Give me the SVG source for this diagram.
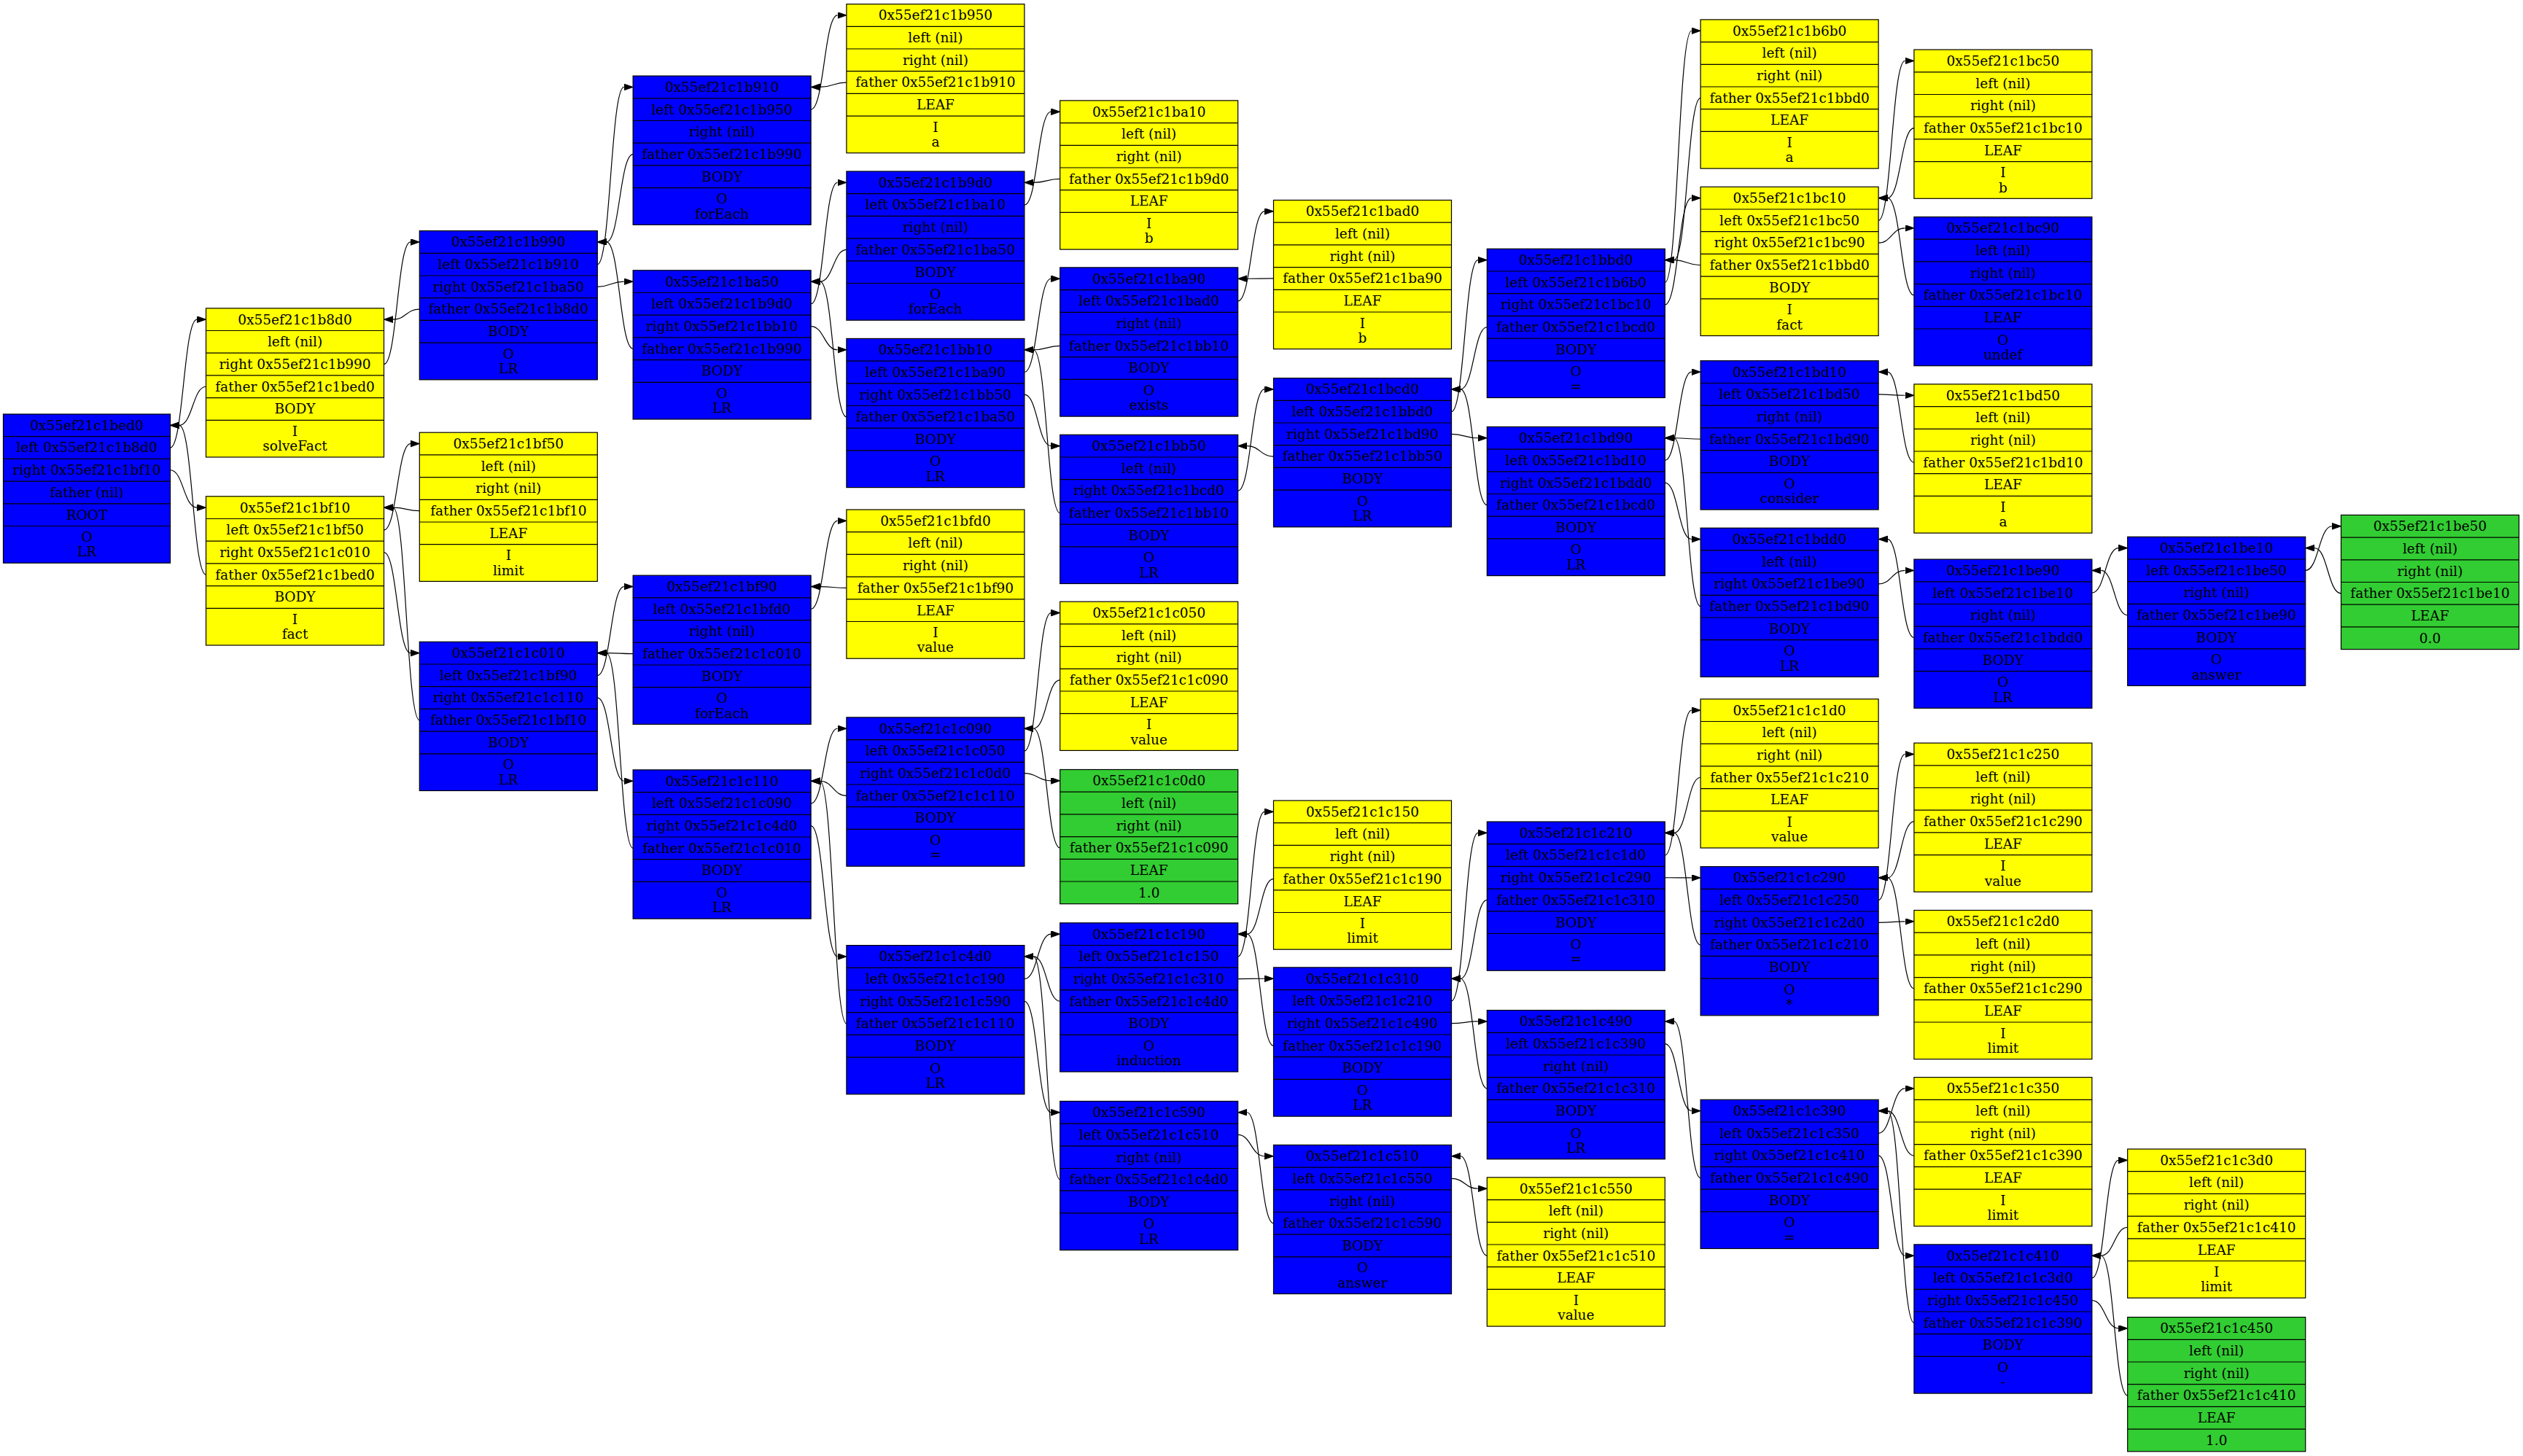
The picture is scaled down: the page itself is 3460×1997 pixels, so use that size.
<svg xmlns="http://www.w3.org/2000/svg" xmlns:xlink="http://www.w3.org/1999/xlink" width="3460" height="1997" viewBox="0 0 3460 1997">
<style>
.b{fill:#0000ff}.y{fill:#ffff00}.g{fill:#32cd32}
.b,.y,.g{stroke:#000;stroke-width:1.2}
.rl{stroke:#000;stroke-width:1.2;fill:none}
text{font-family:"DejaVu Serif",serif;font-size:18.5px;text-anchor:middle;fill:#000}
.e path{fill:none;stroke:#000;stroke-width:1.2;marker-end:url(#ah)}
</style>
<defs>
<marker id="ah" markerUnits="userSpaceOnUse" markerWidth="13" markerHeight="10" refX="0" refY="4.35" orient="auto"><path d="M0,0L12.4,4.35L0,8.7z" fill="#000" stroke="#000" stroke-width="1"/></marker>
<path id="rl" class="rl" d="M-122 30.7H122M-122 61.4H122M-122 92.1H122M-122 122.8H122M-122 153.5H122"/>
<path id="rlr" class="rl" d="M-114.5 30.7H114.5M-114.5 61.4H114.5M-114.5 92.1H114.5M-114.5 122.8H114.5M-114.5 153.5H114.5"/>
</defs>
<rect x="0" y="0" width="3460" height="1997" style="fill:#fff;stroke:none"/>
<g class="e" id="connectors">
<path d="M233.5 614.05C251.5 614.05 251.9 438.15 270.1 438.15"/>
<path d="M233.5 644.75C251.5 644.75 251.9 696.15 270.1 696.15"/>
<path d="M526.5 499.55C544.5 499.55 544.9 331.95 562.9 331.95"/>
<path d="M526.5 726.85C544.5 726.85 544.9 608.55 562.9 608.55"/>
<path d="M526.5 757.55C544.5 757.55 544.9 895.65 562.9 895.65"/>
<path d="M819.3 362.65C837.3 362.65 837.7 119.45 855.7 119.45"/>
<path d="M819.3 393.35C837.3 393.35 837.7 386.15 855.7 386.15"/>
<path d="M819.3 926.35C837.3 926.35 837.7 804.55 855.7 804.55"/>
<path d="M819.3 957.05C837.3 957.05 837.7 1071.25 855.7 1071.25"/>
<path d="M1112.1 150.15C1130.1 150.15 1130.5 20.95 1148.5 20.95"/>
<path d="M1112.1 416.85C1130.1 416.85 1130.5 250.35 1148.5 250.35"/>
<path d="M1112.1 447.55C1130.1 447.55 1130.5 479.75 1148.5 479.75"/>
<path d="M1112.1 835.25C1130.1 835.25 1130.5 714.35 1148.5 714.35"/>
<path d="M1112.1 1101.95C1130.1 1101.95 1130.5 999.25 1148.5 999.25"/>
<path d="M1112.1 1132.65C1130.1 1132.65 1130.5 1311.95 1148.5 1311.95"/>
<path d="M1404.9 281.05C1422.9 281.05 1423.3 153.25 1441.3 153.25"/>
<path d="M1404.9 510.45C1422.9 510.45 1423.3 382.25 1441.3 382.25"/>
<path d="M1404.9 541.15C1422.9 541.15 1423.3 611.65 1441.3 611.65"/>
<path d="M1404.9 1029.95C1422.9 1029.95 1423.3 840.55 1441.3 840.55"/>
<path d="M1404.9 1060.65C1422.9 1060.65 1423.3 1070.85 1441.3 1070.85"/>
<path d="M1404.9 1342.65C1422.9 1342.65 1423.3 1281.15 1441.3 1281.15"/>
<path d="M1404.9 1373.35C1422.9 1373.35 1423.3 1525.75 1441.3 1525.75"/>
<path d="M1697.7 412.95C1715.7 412.95 1716.1 289.85 1734.1 289.85"/>
<path d="M1697.7 673.05C1715.7 673.05 1716.1 533.95 1734.1 533.95"/>
<path d="M1697.7 1311.85C1715.7 1311.85 1716.1 1113.35 1734.1 1113.35"/>
<path d="M1697.7 1342.55C1715.7 1342.55 1716.1 1342.25 1734.1 1342.25"/>
<path d="M1697.7 1556.45C1715.7 1556.45 1716.1 1585.75 1734.1 1585.75"/>
<path d="M1990.5 564.65C2008.5 564.65 2008.9 356.65 2026.9 356.65"/>
<path d="M1990.5 595.35C2008.5 595.35 2008.9 600.75 2026.9 600.75"/>
<path d="M1990.5 1372.95C2008.5 1372.95 2008.9 1142.35 2026.9 1142.35"/>
<path d="M1990.5 1403.65C2008.5 1403.65 2008.9 1400.95 2026.9 1400.95"/>
<path d="M1990.5 1616.45C2008.5 1616.45 2008.9 1630.25 2026.9 1630.25"/>
<path d="M2283.3 387.35C2301.3 387.35 2301.7 42.25 2319.7 42.25"/>
<path d="M2283.3 418.05C2301.3 418.05 2301.7 271.65 2319.7 271.65"/>
<path d="M2283.3 631.45C2301.3 631.45 2301.7 510.15 2319.7 510.15"/>
<path d="M2283.3 662.15C2301.3 662.15 2301.7 739.55 2319.7 739.55"/>
<path d="M2283.3 1173.05C2301.3 1173.05 2301.7 974.15 2319.7 974.15"/>
<path d="M2283.3 1203.75C2301.3 1203.75 2301.7 1203.95 2319.7 1203.95"/>
<path d="M2283.3 1431.65C2301.3 1431.65 2301.7 1523.65 2319.7 1523.65"/>
<path d="M2576.1 302.35C2594.1 302.35 2594.5 83.45 2612.5 83.45"/>
<path d="M2576.1 333.05C2594.1 333.05 2594.5 312.85 2612.5 312.85"/>
<path d="M2576.1 540.85C2594.1 540.85 2594.5 542.25 2612.5 542.25"/>
<path d="M2576.1 800.95C2594.1 800.95 2594.5 782.45 2612.5 782.45"/>
<path d="M2576.1 1234.65C2594.1 1234.65 2594.5 1034.45 2612.5 1034.45"/>
<path d="M2576.1 1265.35C2594.1 1265.35 2594.5 1263.85 2612.5 1263.85"/>
<path d="M2576.1 1554.35C2594.1 1554.35 2594.5 1492.95 2612.5 1492.95"/>
<path d="M2576.1 1585.05C2594.1 1585.05 2594.5 1722.25 2612.5 1722.25"/>
<path d="M2868.9 813.15C2886.9 813.15 2887.3 751.65 2905.3 751.65"/>
<path d="M2868.9 1752.95C2886.9 1752.95 2887.3 1591.35 2905.3 1591.35"/>
<path d="M2868.9 1783.65C2886.9 1783.65 2887.3 1821.95 2905.3 1821.95"/>
<path d="M3161.7 782.35C3179.7 782.35 3180.1 721.75 3198.1 721.75"/>
<path d="M282.5 530.25C264.5 530.25 263.9 583.35 245.9 583.35"/>
<path d="M282.5 788.25C264.5 788.25 263.9 583.35 245.9 583.35"/>
<path d="M575.3 424.05C557.3 424.05 556.9 438.15 538.9 438.15"/>
<path d="M575.3 700.65C557.3 700.65 556.9 696.15 538.9 696.15"/>
<path d="M575.3 987.75C557.3 987.75 556.9 696.15 538.9 696.15"/>
<path d="M868.1 211.55C850.1 211.55 849.7 331.95 831.7 331.95"/>
<path d="M868.1 478.25C850.1 478.25 849.7 331.95 831.7 331.95"/>
<path d="M868.1 896.65C850.1 896.65 849.7 895.65 831.7 895.65"/>
<path d="M868.1 1163.35C850.1 1163.35 849.7 895.65 831.7 895.65"/>
<path d="M1160.9 113.05C1142.9 113.05 1142.5 119.45 1124.5 119.45"/>
<path d="M1160.9 342.45C1142.9 342.45 1142.5 386.15 1124.5 386.15"/>
<path d="M1160.9 571.85C1142.9 571.85 1142.5 386.15 1124.5 386.15"/>
<path d="M1160.9 806.45C1142.9 806.45 1142.5 804.55 1124.5 804.55"/>
<path d="M1160.9 1091.35C1142.9 1091.35 1142.5 1071.25 1124.5 1071.25"/>
<path d="M1160.9 1404.05C1142.9 1404.05 1142.5 1071.25 1124.5 1071.25"/>
<path d="M1453.7 245.35C1435.7 245.35 1435.3 250.35 1417.3 250.35"/>
<path d="M1453.7 474.35C1435.7 474.35 1435.3 479.75 1417.3 479.75"/>
<path d="M1453.7 703.75C1435.7 703.75 1435.3 479.75 1417.3 479.75"/>
<path d="M1453.7 932.65C1435.7 932.65 1435.3 999.25 1417.3 999.25"/>
<path d="M1453.7 1162.95C1435.7 1162.95 1435.3 999.25 1417.3 999.25"/>
<path d="M1453.7 1373.25C1435.7 1373.25 1435.3 1311.95 1417.3 1311.95"/>
<path d="M1453.7 1617.85C1435.7 1617.85 1435.3 1311.95 1417.3 1311.95"/>
<path d="M1746.5 381.95C1728.5 381.95 1728.1 382.25 1710.1 382.25"/>
<path d="M1746.5 626.05C1728.5 626.05 1728.1 611.65 1710.1 611.65"/>
<path d="M1746.5 1205.45C1728.5 1205.45 1728.1 1281.15 1710.1 1281.15"/>
<path d="M1746.5 1434.35C1728.5 1434.35 1728.1 1281.15 1710.1 1281.15"/>
<path d="M1746.5 1677.85C1728.5 1677.85 1728.1 1525.75 1710.1 1525.75"/>
<path d="M2039.3 448.75C2021.3 448.75 2020.9 533.95 2002.9 533.95"/>
<path d="M2039.3 692.85C2021.3 692.85 2020.9 533.95 2002.9 533.95"/>
<path d="M2039.3 1234.45C2021.3 1234.45 2020.9 1342.25 2002.9 1342.25"/>
<path d="M2039.3 1493.05C2021.3 1493.05 2020.9 1342.25 2002.9 1342.25"/>
<path d="M2039.3 1722.35C2021.3 1722.35 2020.9 1585.75 2002.9 1585.75"/>
<path d="M2332.1 134.35C2314.1 134.35 2313.7 356.65 2295.7 356.65"/>
<path d="M2332.1 363.75C2314.1 363.75 2313.7 356.65 2295.7 356.65"/>
<path d="M2332.1 602.25C2314.1 602.25 2313.7 600.75 2295.7 600.75"/>
<path d="M2332.1 831.65C2314.1 831.65 2313.7 600.75 2295.7 600.75"/>
<path d="M2332.1 1066.25C2314.1 1066.25 2313.7 1142.35 2295.7 1142.35"/>
<path d="M2332.1 1296.05C2314.1 1296.05 2313.7 1142.35 2295.7 1142.35"/>
<path d="M2332.1 1615.75C2314.1 1615.75 2313.7 1400.95 2295.7 1400.95"/>
<path d="M2624.9 175.55C2606.9 175.55 2606.5 271.65 2588.5 271.65"/>
<path d="M2624.9 404.95C2606.9 404.95 2606.5 271.65 2588.5 271.65"/>
<path d="M2624.9 634.35C2606.9 634.35 2606.5 510.15 2588.5 510.15"/>
<path d="M2624.9 874.55C2606.9 874.55 2606.5 739.55 2588.5 739.55"/>
<path d="M2624.9 1126.55C2606.9 1126.55 2606.5 1203.95 2588.5 1203.95"/>
<path d="M2624.9 1355.95C2606.9 1355.95 2606.5 1203.95 2588.5 1203.95"/>
<path d="M2624.9 1585.05C2606.9 1585.05 2606.5 1523.65 2588.5 1523.65"/>
<path d="M2624.9 1814.35C2606.9 1814.35 2606.5 1523.65 2588.5 1523.65"/>
<path d="M2917.7 843.75C2899.7 843.75 2899.3 782.45 2881.3 782.45"/>
<path d="M2917.7 1683.45C2899.7 1683.45 2899.3 1722.25 2881.3 1722.25"/>
<path d="M2917.7 1914.05C2899.7 1914.05 2899.3 1722.25 2881.3 1722.25"/>
<path d="M3210.5 813.85C3192.5 813.85 3192.1 751.65 3174.1 751.65"/>
</g>
<g id="n-bed0" transform="translate(119,568)"><rect class="b" x="-114.5" width="229" height="204.2"/><use xlink:href="#rlr"/><text y="21.75">0x55ef21c1bed0</text><text y="52.45">left 0x55ef21c1b8d0</text><text y="83.15">right 0x55ef21c1bf10</text><text y="113.85">father (nil)</text><text y="144.55">ROOT</text><text y="175.05">O</text><text y="195.45">LR</text></g>
<g id="n-b8d0" transform="translate(404.5,422.8)"><rect class="y" x="-122" width="244" height="204.2"/><use xlink:href="#rl"/><text y="21.75">0x55ef21c1b8d0</text><text y="52.45">left (nil)</text><text y="83.15">right 0x55ef21c1b990</text><text y="113.85">father 0x55ef21c1bed0</text><text y="144.55">BODY</text><text y="175.05">I</text><text y="195.45">solveFact</text></g>
<g id="n-bf10" transform="translate(404.5,680.8)"><rect class="y" x="-122" width="244" height="204.2"/><use xlink:href="#rl"/><text y="21.75">0x55ef21c1bf10</text><text y="52.45">left 0x55ef21c1bf50</text><text y="83.15">right 0x55ef21c1c010</text><text y="113.85">father 0x55ef21c1bed0</text><text y="144.55">BODY</text><text y="175.05">I</text><text y="195.45">fact</text></g>
<g id="n-b990" transform="translate(697.3,316.6)"><rect class="b" x="-122" width="244" height="204.2"/><use xlink:href="#rl"/><text y="21.75">0x55ef21c1b990</text><text y="52.45">left 0x55ef21c1b910</text><text y="83.15">right 0x55ef21c1ba50</text><text y="113.85">father 0x55ef21c1b8d0</text><text y="144.55">BODY</text><text y="175.05">O</text><text y="195.45">LR</text></g>
<g id="n-bf50" transform="translate(697.3,593.2)"><rect class="y" x="-122" width="244" height="204.2"/><use xlink:href="#rl"/><text y="21.75">0x55ef21c1bf50</text><text y="52.45">left (nil)</text><text y="83.15">right (nil)</text><text y="113.85">father 0x55ef21c1bf10</text><text y="144.55">LEAF</text><text y="175.05">I</text><text y="195.45">limit</text></g>
<g id="n-c010" transform="translate(697.3,880.3)"><rect class="b" x="-122" width="244" height="204.2"/><use xlink:href="#rl"/><text y="21.75">0x55ef21c1c010</text><text y="52.45">left 0x55ef21c1bf90</text><text y="83.15">right 0x55ef21c1c110</text><text y="113.85">father 0x55ef21c1bf10</text><text y="144.55">BODY</text><text y="175.05">O</text><text y="195.45">LR</text></g>
<g id="n-b910" transform="translate(990.1,104.1)"><rect class="b" x="-122" width="244" height="204.2"/><use xlink:href="#rl"/><text y="21.75">0x55ef21c1b910</text><text y="52.45">left 0x55ef21c1b950</text><text y="83.15">right (nil)</text><text y="113.85">father 0x55ef21c1b990</text><text y="144.55">BODY</text><text y="175.05">O</text><text y="195.45">forEach</text></g>
<g id="n-ba50" transform="translate(990.1,370.8)"><rect class="b" x="-122" width="244" height="204.2"/><use xlink:href="#rl"/><text y="21.75">0x55ef21c1ba50</text><text y="52.45">left 0x55ef21c1b9d0</text><text y="83.15">right 0x55ef21c1bb10</text><text y="113.85">father 0x55ef21c1b990</text><text y="144.55">BODY</text><text y="175.05">O</text><text y="195.45">LR</text></g>
<g id="n-bf90" transform="translate(990.1,789.2)"><rect class="b" x="-122" width="244" height="204.2"/><use xlink:href="#rl"/><text y="21.75">0x55ef21c1bf90</text><text y="52.45">left 0x55ef21c1bfd0</text><text y="83.15">right (nil)</text><text y="113.85">father 0x55ef21c1c010</text><text y="144.55">BODY</text><text y="175.05">O</text><text y="195.45">forEach</text></g>
<g id="n-c110" transform="translate(990.1,1055.9)"><rect class="b" x="-122" width="244" height="204.2"/><use xlink:href="#rl"/><text y="21.75">0x55ef21c1c110</text><text y="52.45">left 0x55ef21c1c090</text><text y="83.15">right 0x55ef21c1c4d0</text><text y="113.85">father 0x55ef21c1c010</text><text y="144.55">BODY</text><text y="175.05">O</text><text y="195.45">LR</text></g>
<g id="n-b950" transform="translate(1282.9,5.6)"><rect class="y" x="-122" width="244" height="204.2"/><use xlink:href="#rl"/><text y="21.75">0x55ef21c1b950</text><text y="52.45">left (nil)</text><text y="83.15">right (nil)</text><text y="113.85">father 0x55ef21c1b910</text><text y="144.55">LEAF</text><text y="175.05">I</text><text y="195.45">a</text></g>
<g id="n-b9d0" transform="translate(1282.9,235)"><rect class="b" x="-122" width="244" height="204.2"/><use xlink:href="#rl"/><text y="21.75">0x55ef21c1b9d0</text><text y="52.45">left 0x55ef21c1ba10</text><text y="83.15">right (nil)</text><text y="113.85">father 0x55ef21c1ba50</text><text y="144.55">BODY</text><text y="175.05">O</text><text y="195.45">forEach</text></g>
<g id="n-bb10" transform="translate(1282.9,464.4)"><rect class="b" x="-122" width="244" height="204.2"/><use xlink:href="#rl"/><text y="21.75">0x55ef21c1bb10</text><text y="52.45">left 0x55ef21c1ba90</text><text y="83.15">right 0x55ef21c1bb50</text><text y="113.85">father 0x55ef21c1ba50</text><text y="144.55">BODY</text><text y="175.05">O</text><text y="195.45">LR</text></g>
<g id="n-bfd0" transform="translate(1282.9,699)"><rect class="y" x="-122" width="244" height="204.2"/><use xlink:href="#rl"/><text y="21.75">0x55ef21c1bfd0</text><text y="52.45">left (nil)</text><text y="83.15">right (nil)</text><text y="113.85">father 0x55ef21c1bf90</text><text y="144.55">LEAF</text><text y="175.05">I</text><text y="195.45">value</text></g>
<g id="n-c090" transform="translate(1282.9,983.9)"><rect class="b" x="-122" width="244" height="204.2"/><use xlink:href="#rl"/><text y="21.75">0x55ef21c1c090</text><text y="52.45">left 0x55ef21c1c050</text><text y="83.15">right 0x55ef21c1c0d0</text><text y="113.85">father 0x55ef21c1c110</text><text y="144.55">BODY</text><text y="175.05">O</text><text y="195.45">=</text></g>
<g id="n-c4d0" transform="translate(1282.9,1296.6)"><rect class="b" x="-122" width="244" height="204.2"/><use xlink:href="#rl"/><text y="21.75">0x55ef21c1c4d0</text><text y="52.45">left 0x55ef21c1c190</text><text y="83.15">right 0x55ef21c1c590</text><text y="113.85">father 0x55ef21c1c110</text><text y="144.55">BODY</text><text y="175.05">O</text><text y="195.45">LR</text></g>
<g id="n-ba10" transform="translate(1575.7,137.9)"><rect class="y" x="-122" width="244" height="204.2"/><use xlink:href="#rl"/><text y="21.75">0x55ef21c1ba10</text><text y="52.45">left (nil)</text><text y="83.15">right (nil)</text><text y="113.85">father 0x55ef21c1b9d0</text><text y="144.55">LEAF</text><text y="175.05">I</text><text y="195.45">b</text></g>
<g id="n-ba90" transform="translate(1575.7,366.9)"><rect class="b" x="-122" width="244" height="204.2"/><use xlink:href="#rl"/><text y="21.75">0x55ef21c1ba90</text><text y="52.45">left 0x55ef21c1bad0</text><text y="83.15">right (nil)</text><text y="113.85">father 0x55ef21c1bb10</text><text y="144.55">BODY</text><text y="175.05">O</text><text y="195.45">exists</text></g>
<g id="n-bb50" transform="translate(1575.7,596.3)"><rect class="b" x="-122" width="244" height="204.2"/><use xlink:href="#rl"/><text y="21.75">0x55ef21c1bb50</text><text y="52.45">left (nil)</text><text y="83.15">right 0x55ef21c1bcd0</text><text y="113.85">father 0x55ef21c1bb10</text><text y="144.55">BODY</text><text y="175.05">O</text><text y="195.45">LR</text></g>
<g id="n-c050" transform="translate(1575.7,825.2)"><rect class="y" x="-122" width="244" height="204.2"/><use xlink:href="#rl"/><text y="21.75">0x55ef21c1c050</text><text y="52.45">left (nil)</text><text y="83.15">right (nil)</text><text y="113.85">father 0x55ef21c1c090</text><text y="144.55">LEAF</text><text y="175.05">I</text><text y="195.45">value</text></g>
<g id="n-c0d0" transform="translate(1575.7,1055.5)"><rect class="g" x="-122" width="244" height="184.2"/><use xlink:href="#rl"/><text y="21.75">0x55ef21c1c0d0</text><text y="52.45">left (nil)</text><text y="83.15">right (nil)</text><text y="113.85">father 0x55ef21c1c090</text><text y="144.55">LEAF</text><text y="175.25">1.0</text></g>
<g id="n-c190" transform="translate(1575.7,1265.8)"><rect class="b" x="-122" width="244" height="204.2"/><use xlink:href="#rl"/><text y="21.75">0x55ef21c1c190</text><text y="52.45">left 0x55ef21c1c150</text><text y="83.15">right 0x55ef21c1c310</text><text y="113.85">father 0x55ef21c1c4d0</text><text y="144.55">BODY</text><text y="175.05">O</text><text y="195.45">induction</text></g>
<g id="n-c590" transform="translate(1575.7,1510.4)"><rect class="b" x="-122" width="244" height="204.2"/><use xlink:href="#rl"/><text y="21.75">0x55ef21c1c590</text><text y="52.45">left 0x55ef21c1c510</text><text y="83.15">right (nil)</text><text y="113.85">father 0x55ef21c1c4d0</text><text y="144.55">BODY</text><text y="175.05">O</text><text y="195.45">LR</text></g>
<g id="n-bad0" transform="translate(1868.5,274.5)"><rect class="y" x="-122" width="244" height="204.2"/><use xlink:href="#rl"/><text y="21.75">0x55ef21c1bad0</text><text y="52.45">left (nil)</text><text y="83.15">right (nil)</text><text y="113.85">father 0x55ef21c1ba90</text><text y="144.55">LEAF</text><text y="175.05">I</text><text y="195.45">b</text></g>
<g id="n-bcd0" transform="translate(1868.5,518.6)"><rect class="b" x="-122" width="244" height="204.2"/><use xlink:href="#rl"/><text y="21.75">0x55ef21c1bcd0</text><text y="52.45">left 0x55ef21c1bbd0</text><text y="83.15">right 0x55ef21c1bd90</text><text y="113.85">father 0x55ef21c1bb50</text><text y="144.55">BODY</text><text y="175.05">O</text><text y="195.45">LR</text></g>
<g id="n-c150" transform="translate(1868.5,1098)"><rect class="y" x="-122" width="244" height="204.2"/><use xlink:href="#rl"/><text y="21.75">0x55ef21c1c150</text><text y="52.45">left (nil)</text><text y="83.15">right (nil)</text><text y="113.85">father 0x55ef21c1c190</text><text y="144.55">LEAF</text><text y="175.05">I</text><text y="195.45">limit</text></g>
<g id="n-c310" transform="translate(1868.5,1326.9)"><rect class="b" x="-122" width="244" height="204.2"/><use xlink:href="#rl"/><text y="21.75">0x55ef21c1c310</text><text y="52.45">left 0x55ef21c1c210</text><text y="83.15">right 0x55ef21c1c490</text><text y="113.85">father 0x55ef21c1c190</text><text y="144.55">BODY</text><text y="175.05">O</text><text y="195.45">LR</text></g>
<g id="n-c510" transform="translate(1868.5,1570.4)"><rect class="b" x="-122" width="244" height="204.2"/><use xlink:href="#rl"/><text y="21.75">0x55ef21c1c510</text><text y="52.45">left 0x55ef21c1c550</text><text y="83.15">right (nil)</text><text y="113.85">father 0x55ef21c1c590</text><text y="144.55">BODY</text><text y="175.05">O</text><text y="195.45">answer</text></g>
<g id="n-bbd0" transform="translate(2161.3,341.3)"><rect class="b" x="-122" width="244" height="204.2"/><use xlink:href="#rl"/><text y="21.75">0x55ef21c1bbd0</text><text y="52.45">left 0x55ef21c1b6b0</text><text y="83.15">right 0x55ef21c1bc10</text><text y="113.85">father 0x55ef21c1bcd0</text><text y="144.55">BODY</text><text y="175.05">O</text><text y="195.45">=</text></g>
<g id="n-bd90" transform="translate(2161.3,585.4)"><rect class="b" x="-122" width="244" height="204.2"/><use xlink:href="#rl"/><text y="21.75">0x55ef21c1bd90</text><text y="52.45">left 0x55ef21c1bd10</text><text y="83.15">right 0x55ef21c1bdd0</text><text y="113.85">father 0x55ef21c1bcd0</text><text y="144.55">BODY</text><text y="175.05">O</text><text y="195.45">LR</text></g>
<g id="n-c210" transform="translate(2161.3,1127)"><rect class="b" x="-122" width="244" height="204.2"/><use xlink:href="#rl"/><text y="21.75">0x55ef21c1c210</text><text y="52.45">left 0x55ef21c1c1d0</text><text y="83.15">right 0x55ef21c1c290</text><text y="113.85">father 0x55ef21c1c310</text><text y="144.55">BODY</text><text y="175.05">O</text><text y="195.45">=</text></g>
<g id="n-c490" transform="translate(2161.3,1385.6)"><rect class="b" x="-122" width="244" height="204.2"/><use xlink:href="#rl"/><text y="21.75">0x55ef21c1c490</text><text y="52.45">left 0x55ef21c1c390</text><text y="83.15">right (nil)</text><text y="113.85">father 0x55ef21c1c310</text><text y="144.55">BODY</text><text y="175.05">O</text><text y="195.45">LR</text></g>
<g id="n-c550" transform="translate(2161.3,1614.9)"><rect class="y" x="-122" width="244" height="204.2"/><use xlink:href="#rl"/><text y="21.75">0x55ef21c1c550</text><text y="52.45">left (nil)</text><text y="83.15">right (nil)</text><text y="113.85">father 0x55ef21c1c510</text><text y="144.55">LEAF</text><text y="175.05">I</text><text y="195.45">value</text></g>
<g id="n-b6b0" transform="translate(2454.1,26.9)"><rect class="y" x="-122" width="244" height="204.2"/><use xlink:href="#rl"/><text y="21.75">0x55ef21c1b6b0</text><text y="52.45">left (nil)</text><text y="83.15">right (nil)</text><text y="113.85">father 0x55ef21c1bbd0</text><text y="144.55">LEAF</text><text y="175.05">I</text><text y="195.45">a</text></g>
<g id="n-bc10" transform="translate(2454.1,256.3)"><rect class="y" x="-122" width="244" height="204.2"/><use xlink:href="#rl"/><text y="21.75">0x55ef21c1bc10</text><text y="52.45">left 0x55ef21c1bc50</text><text y="83.15">right 0x55ef21c1bc90</text><text y="113.85">father 0x55ef21c1bbd0</text><text y="144.55">BODY</text><text y="175.05">I</text><text y="195.45">fact</text></g>
<g id="n-bd10" transform="translate(2454.1,494.8)"><rect class="b" x="-122" width="244" height="204.2"/><use xlink:href="#rl"/><text y="21.75">0x55ef21c1bd10</text><text y="52.45">left 0x55ef21c1bd50</text><text y="83.15">right (nil)</text><text y="113.85">father 0x55ef21c1bd90</text><text y="144.55">BODY</text><text y="175.05">O</text><text y="195.45">consider</text></g>
<g id="n-bdd0" transform="translate(2454.1,724.2)"><rect class="b" x="-122" width="244" height="204.2"/><use xlink:href="#rl"/><text y="21.75">0x55ef21c1bdd0</text><text y="52.45">left (nil)</text><text y="83.15">right 0x55ef21c1be90</text><text y="113.85">father 0x55ef21c1bd90</text><text y="144.55">BODY</text><text y="175.05">O</text><text y="195.45">LR</text></g>
<g id="n-c1d0" transform="translate(2454.1,958.8)"><rect class="y" x="-122" width="244" height="204.2"/><use xlink:href="#rl"/><text y="21.75">0x55ef21c1c1d0</text><text y="52.45">left (nil)</text><text y="83.15">right (nil)</text><text y="113.85">father 0x55ef21c1c210</text><text y="144.55">LEAF</text><text y="175.05">I</text><text y="195.45">value</text></g>
<g id="n-c290" transform="translate(2454.1,1188.6)"><rect class="b" x="-122" width="244" height="204.2"/><use xlink:href="#rl"/><text y="21.75">0x55ef21c1c290</text><text y="52.45">left 0x55ef21c1c250</text><text y="83.15">right 0x55ef21c1c2d0</text><text y="113.85">father 0x55ef21c1c210</text><text y="144.55">BODY</text><text y="175.05">O</text><text y="195.45">*</text></g>
<g id="n-c390" transform="translate(2454.1,1508.3)"><rect class="b" x="-122" width="244" height="204.2"/><use xlink:href="#rl"/><text y="21.75">0x55ef21c1c390</text><text y="52.45">left 0x55ef21c1c350</text><text y="83.15">right 0x55ef21c1c410</text><text y="113.85">father 0x55ef21c1c490</text><text y="144.55">BODY</text><text y="175.05">O</text><text y="195.45">=</text></g>
<g id="n-bc50" transform="translate(2746.9,68.1)"><rect class="y" x="-122" width="244" height="204.2"/><use xlink:href="#rl"/><text y="21.75">0x55ef21c1bc50</text><text y="52.45">left (nil)</text><text y="83.15">right (nil)</text><text y="113.85">father 0x55ef21c1bc10</text><text y="144.55">LEAF</text><text y="175.05">I</text><text y="195.45">b</text></g>
<g id="n-bc90" transform="translate(2746.9,297.5)"><rect class="b" x="-122" width="244" height="204.2"/><use xlink:href="#rl"/><text y="21.75">0x55ef21c1bc90</text><text y="52.45">left (nil)</text><text y="83.15">right (nil)</text><text y="113.85">father 0x55ef21c1bc10</text><text y="144.55">LEAF</text><text y="175.05">O</text><text y="195.45">undef</text></g>
<g id="n-bd50" transform="translate(2746.9,526.9)"><rect class="y" x="-122" width="244" height="204.2"/><use xlink:href="#rl"/><text y="21.75">0x55ef21c1bd50</text><text y="52.45">left (nil)</text><text y="83.15">right (nil)</text><text y="113.85">father 0x55ef21c1bd10</text><text y="144.55">LEAF</text><text y="175.05">I</text><text y="195.45">a</text></g>
<g id="n-be90" transform="translate(2746.9,767.1)"><rect class="b" x="-122" width="244" height="204.2"/><use xlink:href="#rl"/><text y="21.75">0x55ef21c1be90</text><text y="52.45">left 0x55ef21c1be10</text><text y="83.15">right (nil)</text><text y="113.85">father 0x55ef21c1bdd0</text><text y="144.55">BODY</text><text y="175.05">O</text><text y="195.45">LR</text></g>
<g id="n-c250" transform="translate(2746.9,1019.1)"><rect class="y" x="-122" width="244" height="204.2"/><use xlink:href="#rl"/><text y="21.75">0x55ef21c1c250</text><text y="52.45">left (nil)</text><text y="83.15">right (nil)</text><text y="113.85">father 0x55ef21c1c290</text><text y="144.55">LEAF</text><text y="175.05">I</text><text y="195.45">value</text></g>
<g id="n-c2d0" transform="translate(2746.9,1248.5)"><rect class="y" x="-122" width="244" height="204.2"/><use xlink:href="#rl"/><text y="21.75">0x55ef21c1c2d0</text><text y="52.45">left (nil)</text><text y="83.15">right (nil)</text><text y="113.85">father 0x55ef21c1c290</text><text y="144.55">LEAF</text><text y="175.05">I</text><text y="195.45">limit</text></g>
<g id="n-c350" transform="translate(2746.9,1477.6)"><rect class="y" x="-122" width="244" height="204.2"/><use xlink:href="#rl"/><text y="21.75">0x55ef21c1c350</text><text y="52.45">left (nil)</text><text y="83.15">right (nil)</text><text y="113.85">father 0x55ef21c1c390</text><text y="144.55">LEAF</text><text y="175.05">I</text><text y="195.45">limit</text></g>
<g id="n-c410" transform="translate(2746.9,1706.9)"><rect class="b" x="-122" width="244" height="204.2"/><use xlink:href="#rl"/><text y="21.75">0x55ef21c1c410</text><text y="52.45">left 0x55ef21c1c3d0</text><text y="83.15">right 0x55ef21c1c450</text><text y="113.85">father 0x55ef21c1c390</text><text y="144.55">BODY</text><text y="175.05">O</text><text y="195.45">-</text></g>
<g id="n-be10" transform="translate(3039.7,736.3)"><rect class="b" x="-122" width="244" height="204.2"/><use xlink:href="#rl"/><text y="21.75">0x55ef21c1be10</text><text y="52.45">left 0x55ef21c1be50</text><text y="83.15">right (nil)</text><text y="113.85">father 0x55ef21c1be90</text><text y="144.55">BODY</text><text y="175.05">O</text><text y="195.45">answer</text></g>
<g id="n-c3d0" transform="translate(3039.7,1576)"><rect class="y" x="-122" width="244" height="204.2"/><use xlink:href="#rl"/><text y="21.75">0x55ef21c1c3d0</text><text y="52.45">left (nil)</text><text y="83.15">right (nil)</text><text y="113.85">father 0x55ef21c1c410</text><text y="144.55">LEAF</text><text y="175.05">I</text><text y="195.45">limit</text></g>
<g id="n-c450" transform="translate(3039.7,1806.6)"><rect class="g" x="-122" width="244" height="184.2"/><use xlink:href="#rl"/><text y="21.75">0x55ef21c1c450</text><text y="52.45">left (nil)</text><text y="83.15">right (nil)</text><text y="113.85">father 0x55ef21c1c410</text><text y="144.55">LEAF</text><text y="175.25">1.0</text></g>
<g id="n-be50" transform="translate(3332.5,706.4)"><rect class="g" x="-122" width="244" height="184.2"/><use xlink:href="#rl"/><text y="21.75">0x55ef21c1be50</text><text y="52.45">left (nil)</text><text y="83.15">right (nil)</text><text y="113.85">father 0x55ef21c1be10</text><text y="144.55">LEAF</text><text y="175.25">0.0</text></g>
</svg>
